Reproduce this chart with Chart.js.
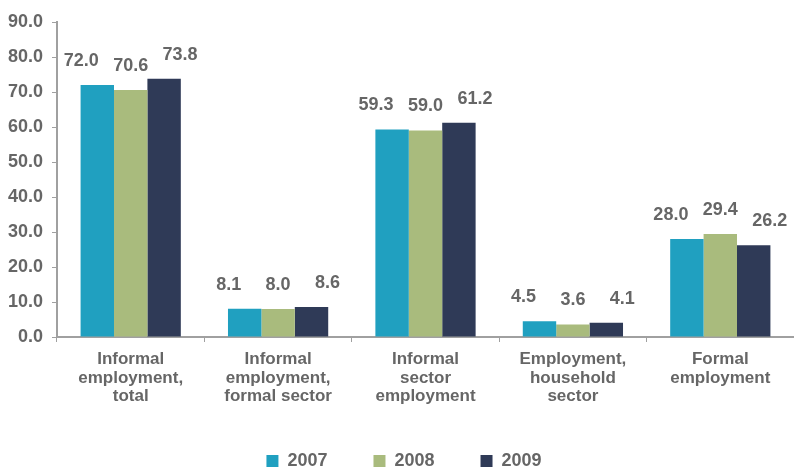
<!DOCTYPE html>
<html>
<head>
<meta charset="utf-8">
<script src="https://cdn.jsdelivr.net/npm/chart.js@4"></script>
<style>
  html, body { margin: 0; padding: 0; background: #fff; }
  #wrap { width: 794px; height: 471px; position: relative; }
</style>
</head>
<body>
<div id="wrap"><canvas id="employmentChart"></canvas></div>
<script>
// Employment shares by type, 2007-2009
const categories = [
    ['Informal', 'employment,', 'total'],
    ['Informal', 'employment,', 'formal sector'],
    ['Informal', 'sector', 'employment'],
    ['Employment,', 'household', 'sector'],
    ['Formal', 'employment']
];
const years = ['2007', '2008', '2009'];
const values2007 = [72.0, 8.1, 59.3, 4.5, 28.0];
const values2008 = [70.6, 8.0, 59.0, 3.6, 29.4];
const values2009 = [73.8, 8.6, 61.2, 4.1, 26.2];
const yearColors = ['#20a0c0', '#a9bb7d', '#2f3a57'];

const textGray = '#666666';
const axisGray = '#a0a0a0';

// Draws the value above each bar, spread a little wider than the bars
const valueLabels = {
    id: 'valueLabels',
    afterDatasetsDraw(chart) {
        const ctx = chart.ctx;
        ctx.save();
        ctx.font = 'bold 18px "Liberation Sans", Arial, sans-serif';
        ctx.fillStyle = textGray;
        ctx.textAlign = 'center';
        ctx.textBaseline = 'middle';
        chart.data.datasets.forEach((ds, i) => {
            chart.getDatasetMeta(i).data.forEach((bar, j) => {
                ctx.fillText(ds.data[j].toFixed(1), bar.x + (i - 1) * 16, bar.y - 24);
            });
        });
        ctx.restore();
    }
};

const seriesValues = [values2007, values2008, values2009];

const ctx = document.getElementById('employmentChart').getContext('2d');
const employmentChart = new Chart(ctx, {
    type: 'bar',
    data: {
        labels: categories,
        datasets: years.map((year, i) => ({
            label: year,
            data: seriesValues[i],
            backgroundColor: yearColors[i],
            borderWidth: 0,
            categoryPercentage: 0.68,
            barPercentage: 1.0
        }))
    },
    options: {
        responsive: true,
        maintainAspectRatio: false,
        animation: false,
        layout: {
            // negative right padding nudges the legend a bit to the right
            padding: { top: 22, right: -14, left: 0, bottom: 0 }
        },
        plugins: {
            legend: {
                position: 'bottom',
                maxHeight: 65,
                labels: {
                    boxWidth: 12,
                    boxHeight: 12,
                    padding: 46,
                    color: textGray,
                    font: { family: '"Liberation Sans", Arial, sans-serif', size: 18, weight: 'bold' }
                }
            },
            tooltip: { enabled: false }
        },
        scales: {
            x: {
                offset: true,
                border: { color: axisGray, width: 2 },
                grid: {
                    offset: true,
                    drawOnChartArea: false,
                    drawTicks: true,
                    tickLength: 5,
                    color: axisGray
                },
                ticks: {
                    color: textGray,
                    padding: 8,
                    maxRotation: 0,
                    font: { family: '"Liberation Sans", Arial, sans-serif', size: 17, weight: 'bold', lineHeight: 1.1 }
                },
                afterFit(scale) {
                    scale.height = 69;
                }
            },
            y: {
                min: 0,
                max: 90,
                border: { color: axisGray, width: 2 },
                grid: {
                    drawOnChartArea: false,
                    drawTicks: true,
                    tickLength: 5,
                    color: axisGray
                },
                ticks: {
                    stepSize: 10,
                    padding: 9,
                    color: textGray,
                    font: { family: '"Liberation Sans", Arial, sans-serif', size: 18, weight: 'bold' },
                    callback: v => v.toFixed(1)
                },
                afterFit(scale) {
                    scale.width = 57;
                }
            }
        }
    },
    plugins: [valueLabels]
});
</script>
</body>
</html>
